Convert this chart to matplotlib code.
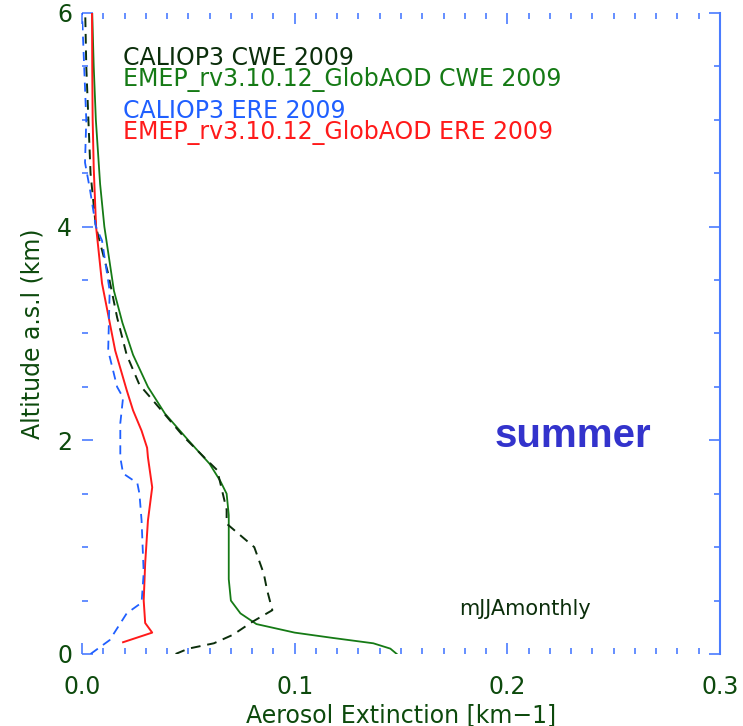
import matplotlib
matplotlib.use("Agg")
import matplotlib.pyplot as plt
from matplotlib.ticker import MultipleLocator

# EMEP_rv3.10.12_GlobAOD CWE 2009 (green solid)
emep_cwe_alt = [0.0, 0.05, 0.1, 0.15, 0.2, 0.28, 0.38, 0.5, 0.7, 1.0, 1.3, 1.5, 1.62, 1.78,
                2.0, 2.25, 2.5, 2.8, 3.1, 3.4, 3.8, 4.0, 4.4, 5.0, 5.5, 6.0]
emep_cwe_ext = [0.148, 0.145, 0.137, 0.118, 0.100, 0.082, 0.0745, 0.070, 0.069, 0.069, 0.069,
                0.068, 0.065, 0.060, 0.050, 0.039, 0.031, 0.024, 0.019, 0.015, 0.012, 0.0105,
                0.0085, 0.0065, 0.0055, 0.0048]

# CALIOP3 CWE 2009 (dark dashed)
cal_cwe_alt = [0.0, 0.05, 0.1, 0.18, 0.3, 0.41, 0.6, 0.75, 1.0, 1.11, 1.22, 1.35, 1.72, 1.81,
               2.03, 2.37, 2.52, 2.8, 3.15, 3.56, 4.0, 4.5, 5.0, 5.5, 6.0]
cal_cwe_ext = [0.044, 0.050, 0.062, 0.071, 0.080, 0.0895, 0.087, 0.0855, 0.081, 0.0745, 0.068,
               0.068, 0.0636, 0.059, 0.048, 0.0335, 0.027, 0.021, 0.0165, 0.0123, 0.0065,
               0.004, 0.003, 0.002, 0.0015]

# EMEP_rv3.10.12_GlobAOD ERE 2009 (red solid)
emep_ere_alt = [0.11, 0.2, 0.29, 0.5, 0.85, 1.25, 1.56, 1.84, 1.93, 2.09, 2.28, 2.47, 2.84,
                3.47, 4.0, 4.55, 5.0, 5.5, 6.0]
emep_ere_ext = [0.0193, 0.033, 0.0297, 0.029, 0.0297, 0.031, 0.033, 0.031, 0.0306, 0.028,
                0.024, 0.021, 0.0156, 0.0094, 0.0066, 0.0055, 0.005, 0.0048, 0.0047]

# CALIOP3 ERE 2009 (blue dashed)
cal_ere_alt = [0.0, 0.13, 0.38, 0.48, 0.76, 1.25, 1.5, 1.6, 1.69, 1.84, 2.16, 2.4, 2.5, 2.84,
               3.4, 3.87, 4.0, 4.34, 4.6, 5.0, 5.5, 6.0]
cal_ere_ext = [0.004, 0.013, 0.021, 0.028, 0.029, 0.028, 0.027, 0.026, 0.0193, 0.018, 0.018,
               0.0193, 0.0165, 0.0123, 0.013, 0.0094, 0.0065, 0.0038, 0.0014, 0.002, 0.001, 0.0]

labels = ["CALIOP3 CWE 2009", "EMEP_rv3.10.12_GlobAOD CWE 2009",
          "CALIOP3 ERE 2009", "EMEP_rv3.10.12_GlobAOD ERE 2009"]
x_ticks = [0.0, 0.1, 0.2, 0.3]
x_ticklabels = ["0.0", "0.1", "0.2", "0.3"]
y_ticks = [0, 2, 4, 6]
y_ticklabels = ["0", "2", "4", "6"]

c_green = "#157a15"
c_dark = "#0b2e0b"
c_blue = "#1f5fff"
c_red = "#ff1a1a"
c_tick = "#4a7cff"
c_lab = "#0d4a0d"

fig = plt.figure(figsize=(7.43, 7.26), dpi=100)
ax = fig.add_axes([0.1104, 0.0992, 0.8586, 0.8829])

dash = (0, (5, 3.5))
ax.plot(emep_cwe_ext, emep_cwe_alt, color=c_green, lw=1.3)
ax.plot(cal_cwe_ext, cal_cwe_alt, color=c_dark, lw=1.4, linestyle=dash)
ax.plot(emep_ere_ext, emep_ere_alt, color=c_red, lw=1.4)
ax.plot(cal_ere_ext, cal_ere_alt, color=c_blue, lw=1.3, linestyle=dash)

ax.set_xlim(0, 0.3)
ax.set_ylim(0, 6)
ax.set_xticks(x_ticks, x_ticklabels)
ax.set_yticks(y_ticks, y_ticklabels)
ax.xaxis.set_minor_locator(MultipleLocator(0.01))
ax.yaxis.set_minor_locator(MultipleLocator(0.5))

for s in ["left", "top", "bottom"]:
    ax.spines[s].set_visible(False)
ax.spines["right"].set_color(c_tick)
ax.spines["right"].set_linewidth(1.5)

ax.tick_params(which="both", direction="in", top=True, right=True, color=c_tick,
               labelcolor=c_lab, labelsize=17)
ax.tick_params(which="major", length=8, width=1.2)
ax.tick_params(which="minor", length=4, width=1.2)
ax.tick_params(axis="x", pad=15)
ax.tick_params(axis="y", pad=7)

ax.set_xlabel("Aerosol Extinction [km\u22121]", fontsize=17, color=c_lab, labelpad=3)
ax.set_ylabel("Altitude a.s.l (km)", fontsize=17, color=c_lab, labelpad=9)

# legend-like annotation text
text_colors = [c_dark, c_green, c_blue, c_red]
text_y = [5.58, 5.38, 5.08, 4.88]
for lab, col, yy in zip(labels, text_colors, text_y):
    ax.text(0.0193, yy, lab, color=col, fontsize=17, va="center", ha="left")

ax.text(0.194, 1.94, "summer", color="#3333cc", fontsize=29, fontweight="bold",
        family="Liberation Sans", va="baseline", ha="left")
ax.text(0.1774, 0.365, "mJJAmonthly", color=c_dark, fontsize=15, va="baseline", ha="left")

fig.savefig("out.png", dpi=100)
